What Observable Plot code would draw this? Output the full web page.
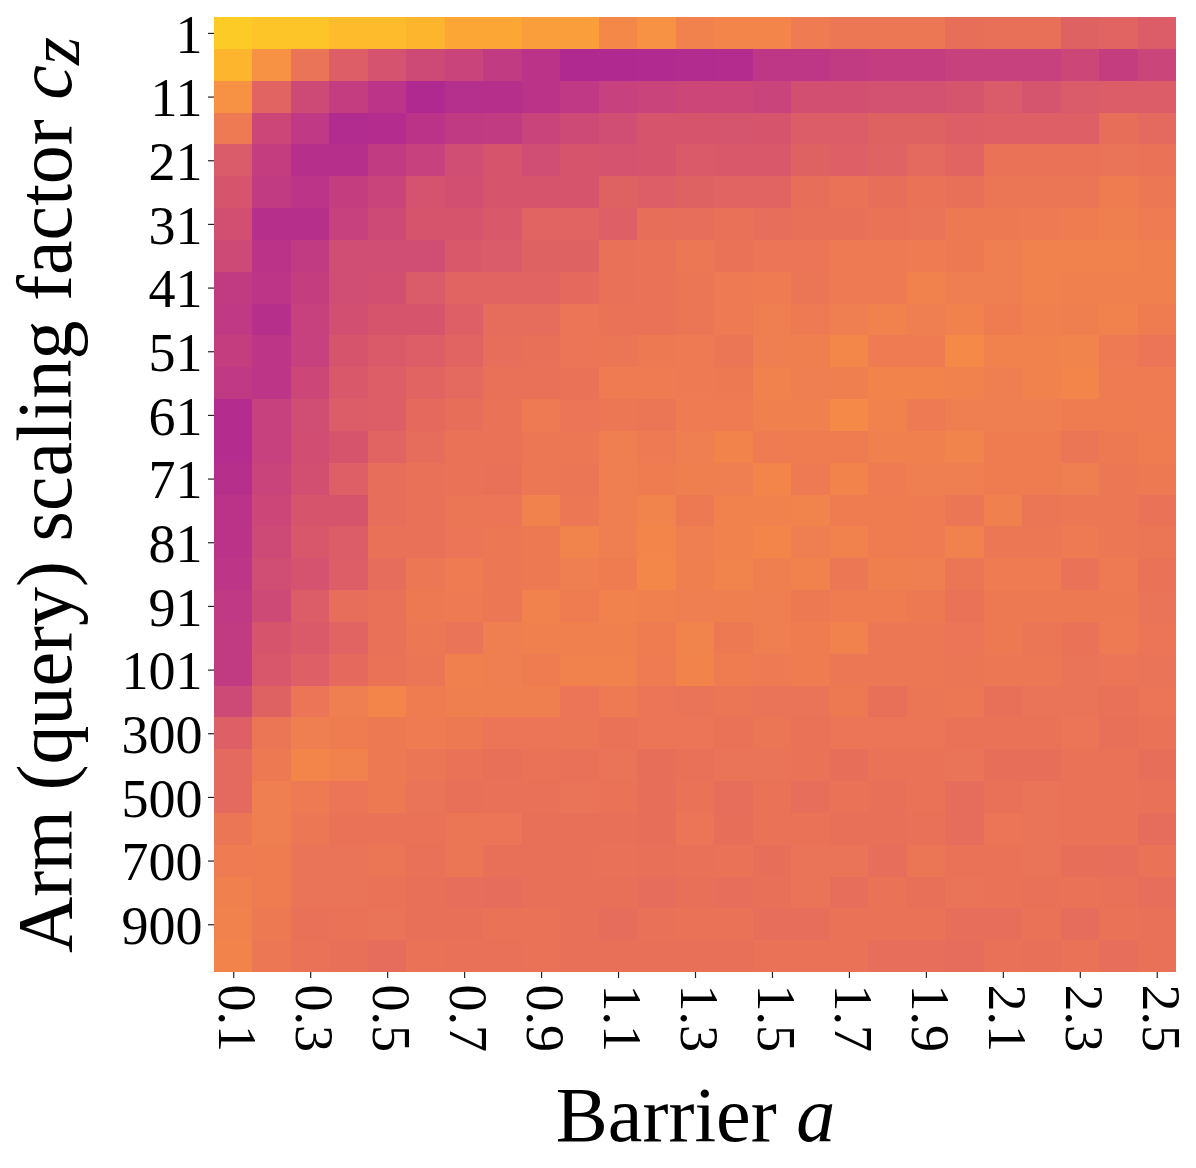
<!DOCTYPE html>
<html>
<head>
<meta charset="utf-8">
<script src="https://cdn.jsdelivr.net/npm/d3@7"></script>
<script src="https://cdn.jsdelivr.net/npm/@observablehq/plot@0.6"></script>
<style>
html,body{margin:0;padding:0;background:#fff}
svg{display:block}
</style>
</head>
<body>
<div id="chart"></div>
<script>
const barrier = ["0.1","0.2","0.3","0.4","0.5","0.6","0.7","0.8","0.9","1.0","1.1","1.2","1.3","1.4","1.5","1.6","1.7","1.8","1.9","2.0","2.1","2.2","2.3","2.4","2.5"];
const armScaling = [1,6,11,16,21,26,31,36,41,46,51,56,61,66,71,76,81,86,91,96,101,200,300,400,500,600,700,800,900,1000];
const barrierTicks = ["0.1","0.3","0.5","0.7","0.9","1.1","1.3","1.5","1.7","1.9","2.1","2.3","2.5"];
const armTicks = [1,11,21,31,41,51,61,71,81,91,101,300,500,700,900];

const r0 = [.905,.89,.89,.87,.87,.855,.82,.82,.80,.80,.745,.77,.72,.735,.735,.69,.67,.67,.67,.63,.635,.635,.59,.60,.575];
const r1 = [.855,.77,.655,.58,.54,.51,.49,.46,.43,.395,.395,.40,.405,.41,.445,.445,.46,.465,.465,.48,.48,.48,.50,.47,.495];
const r2 = [.77,.60,.51,.465,.435,.395,.415,.42,.43,.45,.48,.49,.50,.50,.49,.53,.53,.535,.535,.545,.57,.545,.57,.575,.575];
const r3 = [.68,.50,.45,.405,.41,.43,.455,.46,.49,.51,.52,.55,.55,.545,.55,.575,.575,.59,.59,.58,.585,.585,.585,.63,.61];
const r4 = [.57,.47,.42,.42,.46,.48,.52,.55,.52,.55,.54,.55,.565,.56,.56,.59,.585,.595,.61,.60,.65,.645,.645,.655,.645];
const r5 = [.55,.46,.435,.47,.49,.54,.53,.55,.55,.55,.59,.58,.59,.60,.60,.63,.65,.63,.645,.635,.665,.665,.665,.695,.67];
const r6 = [.53,.42,.42,.48,.51,.55,.55,.56,.60,.60,.585,.63,.625,.64,.625,.635,.635,.65,.655,.675,.675,.685,.695,.705,.69];
const r7 = [.51,.43,.46,.52,.52,.52,.56,.57,.59,.59,.64,.65,.67,.645,.66,.66,.685,.68,.69,.675,.70,.715,.715,.715,.71];
const r8 = [.46,.44,.47,.52,.53,.57,.60,.60,.60,.615,.64,.645,.665,.68,.69,.665,.685,.685,.72,.70,.70,.72,.71,.71,.71];
const r9 = [.45,.42,.48,.53,.55,.55,.585,.62,.62,.66,.65,.645,.665,.68,.70,.68,.70,.72,.70,.715,.695,.71,.705,.715,.695];
const r10 = [.47,.44,.48,.55,.565,.58,.60,.625,.635,.66,.665,.675,.68,.665,.70,.705,.74,.69,.69,.75,.72,.72,.725,.685,.66];
const r11 = [.45,.44,.50,.56,.58,.60,.61,.64,.64,.645,.69,.69,.685,.675,.72,.70,.705,.73,.73,.715,.70,.715,.735,.69,.69];
const r12 = [.41,.48,.52,.575,.58,.615,.63,.645,.68,.66,.67,.665,.69,.69,.71,.71,.75,.72,.68,.70,.70,.70,.695,.695,.69];
const r13 = [.41,.48,.525,.55,.60,.62,.65,.645,.67,.67,.70,.685,.70,.73,.69,.695,.695,.71,.71,.725,.695,.695,.665,.675,.695];
const r14 = [.42,.49,.53,.585,.625,.64,.65,.64,.67,.665,.70,.695,.705,.70,.735,.68,.73,.69,.70,.70,.695,.695,.70,.67,.675];
const r15 = [.43,.50,.55,.55,.625,.64,.665,.66,.72,.67,.70,.725,.675,.72,.72,.725,.695,.695,.69,.665,.71,.665,.67,.67,.645];
const r16 = [.43,.51,.555,.575,.64,.64,.66,.67,.675,.725,.70,.735,.70,.72,.735,.70,.72,.695,.69,.72,.67,.67,.68,.67,.665];
const r17 = [.44,.52,.54,.58,.62,.67,.69,.67,.675,.70,.695,.74,.705,.725,.705,.715,.67,.705,.70,.665,.69,.69,.65,.68,.645];
const r18 = [.45,.51,.575,.625,.64,.675,.685,.67,.715,.695,.72,.71,.70,.705,.70,.675,.695,.695,.675,.645,.675,.675,.675,.675,.655];
const r19 = [.46,.55,.565,.60,.64,.67,.655,.70,.71,.71,.71,.695,.725,.675,.70,.695,.72,.67,.67,.66,.675,.665,.65,.685,.66];
const r20 = [.46,.555,.585,.615,.65,.665,.71,.70,.695,.72,.72,.69,.73,.695,.685,.695,.67,.67,.67,.665,.67,.67,.655,.66,.655];
const r21 = [.51,.59,.66,.70,.735,.695,.705,.705,.705,.66,.68,.66,.655,.665,.655,.655,.675,.635,.665,.67,.635,.655,.655,.64,.66];
const r22 = [.585,.665,.70,.695,.675,.69,.675,.66,.66,.665,.645,.66,.66,.65,.665,.645,.66,.66,.66,.65,.65,.65,.66,.635,.645];
const r23 = [.61,.675,.735,.72,.675,.665,.65,.635,.645,.64,.655,.63,.64,.655,.655,.645,.63,.645,.645,.655,.63,.63,.645,.645,.63];
const r24 = [.61,.70,.68,.66,.675,.655,.635,.64,.64,.655,.65,.63,.645,.625,.645,.625,.645,.635,.645,.62,.64,.655,.645,.645,.64];
const r25 = [.665,.70,.67,.65,.645,.645,.665,.66,.635,.635,.635,.63,.66,.63,.65,.645,.635,.635,.64,.62,.66,.655,.645,.645,.62];
const r26 = [.69,.695,.655,.655,.665,.64,.665,.635,.635,.635,.64,.635,.64,.645,.63,.655,.655,.625,.665,.65,.645,.655,.63,.625,.65];
const r27 = [.71,.695,.655,.655,.645,.635,.625,.62,.635,.635,.635,.62,.635,.625,.635,.655,.625,.645,.635,.655,.645,.64,.65,.64,.625];
const r28 = [.715,.675,.64,.65,.655,.635,.635,.645,.645,.635,.62,.64,.65,.645,.625,.625,.65,.645,.645,.625,.625,.645,.62,.645,.64];
const r29 = [.73,.67,.645,.635,.62,.645,.64,.64,.645,.635,.635,.635,.635,.635,.65,.65,.65,.625,.625,.62,.64,.635,.645,.625,.64];

const heat = [r0,r1,r2,r3,r4,r5,r6,r7,r8,r9,r10,r11,r12,r13,r14,r15,r16,r17,r18,r19,r20,r21,r22,r23,r24,r25,r26,r27,r28,r29];
const cells = heat.flatMap((row, j) => row.map((v, i) => ({a: barrier[i], cz: armScaling[j], v})));

// colour calibration against the reference: stops on the plasma ramp
const colorStops = [0, .60, .62, .65, .70, .75, .80, 1];
const plasmaStops = [0, .60, .628, .648, .682, .715, .775, 1];
const calibrate = d3.scaleLinear().domain(colorStops).range(plasmaStops);

const plot = Plot.plot({
  width: 1196,
  height: 1168,
  marginLeft: 214,
  marginRight: 20,
  marginTop: 17,
  marginBottom: 196,
  style: {fontFamily: "'Liberation Serif', serif", background: "#fff", color: "#000"},
  x: {type: "band", domain: barrier, padding: 0, round: false},
  y: {type: "band", domain: armScaling, padding: 0, round: false},
  color: {type: "linear", domain: [0, 1], interpolate: (t) => d3.interpolatePlasma(calibrate(t))},
  marks: [
    Plot.cell(cells, {x: "a", y: "cz", fill: "v", shapeRendering: "crispEdges"}),
    // tick lines
    Plot.axisX({ticks: barrierTicks, tickSize: 6, strokeWidth: 1.2, stroke: "#222", fill: "none", label: null}),
    Plot.axisY({ticks: armTicks, tickSize: 6, strokeWidth: 1.2, stroke: "#222", fill: "none", label: null}),
    // tick labels and titles
    Plot.axisX({
      ticks: barrierTicks, tickSize: 0, tickPadding: 12, tickRotate: 90, fontSize: 54, dx: 3,
      label: "Barrier a", labelAnchor: "center", labelArrow: "none", labelOffset: 168
    }),
    Plot.axisY({
      ticks: armTicks, tickSize: 0, tickPadding: 12, fontSize: 54, dy: 2,
      label: "Arm (query) scaling factor cz", labelAnchor: "center", labelArrow: "none", labelOffset: 199
    })
  ]
});

// rich axis titles: italic maths symbols, larger type
const svg = d3.select(plot);
const xLabel = svg.select('[aria-label="x-axis label"] text');
xLabel.text(null).attr("font-size", 78);
xLabel.append("tspan").text("Barrier ");
xLabel.append("tspan").attr("font-style", "italic").text("a");
const yLabel = svg.select('[aria-label="y-axis label"] text');
yLabel.text(null).attr("font-size", 78);
yLabel.append("tspan").text("Arm (query) scaling factor ");
yLabel.append("tspan").attr("font-style", "italic").text("c");
yLabel.append("tspan").attr("font-style", "italic").attr("dy", 8).attr("font-size", 72).text("z");

document.getElementById("chart").appendChild(plot);
</script>
</body>
</html>
